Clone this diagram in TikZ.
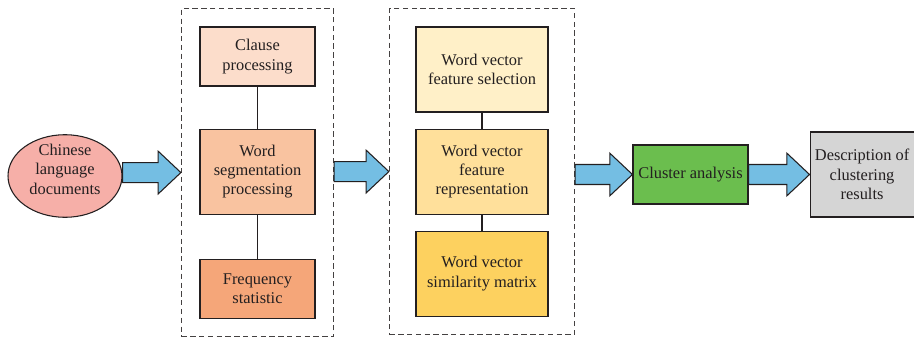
\documentclass[tikz,border=0pt]{standalone}
\usepackage{fontspec}
\setmainfont{Liberation Serif}
\usetikzlibrary{positioning,calc,fit,shapes.geometric}

\definecolor{inkdark}{HTML}{231F20}
\definecolor{docpink}{HTML}{F6AFA8}
\definecolor{flowblue}{HTML}{74BEE3}
\definecolor{clausefill}{HTML}{FCDDCB}
\definecolor{segfill}{HTML}{F9C3A0}
\definecolor{freqfill}{HTML}{F5A679}
\definecolor{selfill}{HTML}{FFF0C8}
\definecolor{repfill}{HTML}{FFE09B}
\definecolor{simfill}{HTML}{FDD15F}
\definecolor{clusterfill}{HTML}{6BBE4E}
\definecolor{descfill}{HTML}{D5D5D5}

% fat blue arrow from one node's east side to the next node's west side
\newcommand{\flowarrow}[2]{%
  \draw[flow] let \p1=(#1.east), \p2=(#2.west) in
    (\x1,\y2+7.5pt) -- (\x2-17pt,\y2+7.5pt) -- (\x2-17pt,\y2+16pt) -- (\x2,\y2)
    -- (\x2-17pt,\y2-16pt) -- (\x2-17pt,\y2-7.5pt) -- (\x1,\y2-7.5pt) -- cycle;}

\begin{document}
\begin{tikzpicture}[
  x=0.75pt, y=-0.75pt,
  font=\fontsize{12.3}{14.6}\selectfont,
  text=inkdark,
  stepbox/.style={draw=inkdark, line width=0.8pt, align=center, inner sep=2pt},
  group/.style={draw=inkdark!85, line width=0.9pt, dash pattern=on 4pt off 2.6pt},
  flow/.style={draw=inkdark, line width=0.8pt, fill=flowblue},
  link/.style={draw=inkdark, line width=0.8pt}
]
\useasboundingbox (0,0) rectangle (914,336);

% source documents, text sits a little above the middle
\node[ellipse, draw=inkdark, line width=0.8pt, fill=docpink,
  minimum width=85.5pt, minimum height=51pt, inner sep=0pt] (docs) at (65,176)
  {\raisebox{3.75pt}[\height][\depth]{\begin{tabular}{@{}c@{}}Chinese\\language\\documents\end{tabular}}};

% first stage: text preprocessing
\node[stepbox, fill=clausefill, minimum width=86.25pt, minimum height=44.25pt] (clause) at (257.5,56.5)
  {Clause\\processing};
\node[stepbox, fill=segfill, minimum width=86.25pt, minimum height=63.75pt, below=31.5pt of clause] (seg)
  {Word\\segmentation\\processing};
\node[stepbox, fill=freqfill, minimum width=86.25pt, minimum height=44.25pt, below=33pt of seg] (freq)
  {Frequency\\statistic};
\draw[link] (clause) -- (seg);
\draw[link] (seg) -- (freq);
\node[group, fit=(clause)(seg)(freq), inner xsep=13.5pt, inner ysep=13.5pt] (prep) {};

% second stage: word vectors
\node[stepbox, fill=selfill, minimum width=99pt, minimum height=63.75pt] (sel) at (482,69.5)
  {Word vector\\feature selection};
\node[stepbox, fill=repfill, minimum width=99pt, minimum height=63.75pt, below=12pt of sel] (rep)
  {Word vector\\feature\\representation};
\node[stepbox, fill=simfill, minimum width=99pt, minimum height=63.75pt, below=12pt of rep] (sim)
  {Word vector\\similarity matrix};
\draw[link] (sel) -- (rep);
\draw[link] (rep) -- (sim);
\node[group, fit=(sel)(rep)(sim), inner xsep=19.5pt, inner ysep=13.5pt] (vec) {};

\node[stepbox, fill=clusterfill, minimum width=86.25pt, minimum height=44.25pt] (cluster) at (690.5,174.5)
  {Cluster analysis};
\node[stepbox, fill=descfill, minimum width=78pt, minimum height=63.75pt, right=45.75pt of cluster] (desc)
  {Description of\\clustering\\results};

\flowarrow{docs}{prep}
\flowarrow{prep}{vec}
\flowarrow{vec}{cluster}
\flowarrow{cluster}{desc}
\end{tikzpicture}
\end{document}
